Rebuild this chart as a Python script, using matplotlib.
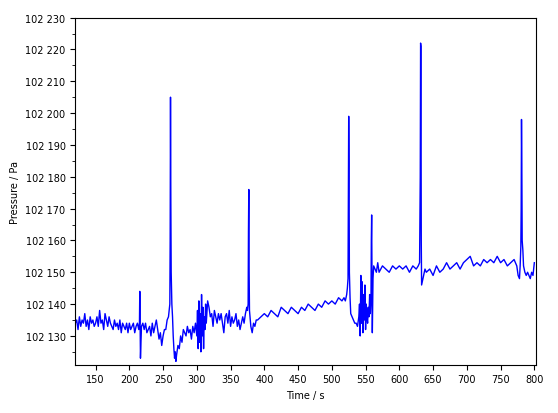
import numpy as np
import matplotlib
matplotlib.use("Agg")
from matplotlib import pyplot as plt
from matplotlib.ticker import FuncFormatter, MultipleLocator

# Zeit (s) und Druck (Pa)
t = [120, 122, 124, 126, 128, 130, 132, 134, 136, 138, 140, 142, 144, 146, 148, 150,
     152, 154, 156, 158, 160, 162, 164, 166, 168, 170, 172, 174, 176, 178, 180, 182,
     184, 186, 188, 190, 192, 194, 196, 198, 200, 202, 204, 206, 208, 210, 212, 214,
     215, 215.5, 216, 216.5, 218, 220, 222, 224, 226, 228, 230, 232, 234, 236, 238, 240,
     242, 244, 246, 248, 250, 252, 254, 256, 258, 259, 260, 260.5, 261, 261.5, 262, 263,
     264, 265, 266, 267, 268, 269, 270, 272, 274, 276, 278, 280, 282, 284, 286, 288,
     290, 292, 294, 296, 298, 300, 301, 302, 303, 304, 305, 306, 307, 308, 309, 310,
     311, 312, 313, 314, 316, 318, 320, 322, 324, 326, 328, 330, 332, 334, 336, 338,
     340, 342, 344, 346, 348, 350, 352, 354, 356, 358, 360, 362, 364, 366, 368, 370,
     372, 374, 375, 376, 376.5, 377, 377.5, 378, 380, 382, 384, 386, 388, 390, 395, 400,
     405, 410, 415, 420, 425, 430, 435, 440, 445, 450, 455, 460, 465, 470, 475, 480,
     485, 490, 495, 500, 505, 510, 515, 518, 520, 522, 523, 524, 524.5, 525, 525.5, 526,
     527, 528, 530, 532, 534, 536, 538, 540, 541, 542, 543, 544, 545, 546, 547, 548,
     549, 550, 551, 552, 553, 554, 555, 556, 557, 558, 558.5, 559, 560, 561, 562, 564,
     566, 568, 570, 575, 580, 585, 590, 595, 600, 605, 610, 615, 620, 625, 628, 630,
     631, 631.5, 632, 632.5, 633, 634, 636, 638, 640, 645, 650, 655, 660, 665, 670, 675,
     680, 685, 690, 695, 700, 705, 710, 715, 720, 725, 730, 735, 740, 745, 750, 755,
     760, 765, 770, 772, 774, 776, 778, 779, 780, 780.5, 781, 781.5, 782, 783, 784, 786,
     788, 790, 792, 794, 796, 798, 800]
p = [102134, 102135, 102132, 102136, 102133, 102135, 102134, 102137, 102133, 102135, 102132, 102136, 102134, 102135, 102133, 102134,
     102136, 102133, 102138, 102134, 102135, 102132, 102137, 102135, 102133, 102136, 102134, 102133, 102132, 102135, 102133, 102134,
     102132, 102135, 102131, 102134, 102133, 102132, 102134, 102131, 102134, 102132, 102133, 102134, 102131, 102133, 102134, 102132,
     102134, 102144, 102133, 102123, 102133, 102134, 102132, 102134, 102131, 102132, 102133, 102130, 102134, 102131, 102133, 102135,
     102132, 102129, 102131, 102127, 102130, 102132, 102132, 102135, 102136, 102138, 102140, 102160, 102205, 102172, 102150, 102140,
     102136, 102130, 102126, 102123, 102125, 102122, 102124, 102127, 102126, 102130, 102128, 102132, 102131, 102130, 102133, 102131,
     102132, 102129, 102133, 102131, 102134, 102130, 102138, 102126, 102141, 102128, 102137, 102125, 102143, 102130, 102139, 102126,
     102136, 102132, 102140, 102134, 102141, 102139, 102136, 102137, 102133, 102138, 102136, 102134, 102137, 102135, 102137, 102134,
     102131, 102136, 102137, 102134, 102138, 102133, 102136, 102134, 102135, 102137, 102133, 102135, 102132, 102134, 102136, 102134,
     102137, 102139, 102138, 102140, 102163, 102176, 102150, 102138, 102133, 102131, 102134, 102133, 102135, 102135, 102136, 102137,
     102136, 102138, 102137, 102136, 102139, 102138, 102137, 102139, 102138, 102137, 102139, 102138, 102140, 102139, 102138, 102140,
     102139, 102141, 102140, 102141, 102140, 102142, 102141, 102142, 102141, 102143, 102145, 102148, 102170, 102199, 102184, 102150,
     102142, 102137, 102136, 102135, 102134, 102134, 102133, 102136, 102140, 102130, 102149, 102134, 102147, 102131, 102143, 102135,
     102146, 102132, 102140, 102136, 102134, 102139, 102136, 102143, 102137, 102141, 102160, 102168, 102131, 102148, 102152, 102151,
     102150, 102153, 102150, 102152, 102151, 102150, 102152, 102151, 102152, 102151, 102152, 102150, 102152, 102151, 102152, 102153,
     102180, 102222, 102221, 102160, 102146, 102147, 102149, 102151, 102150, 102151, 102149, 102152, 102150, 102151, 102153, 102151,
     102152, 102153, 102151, 102153, 102154, 102155, 102152, 102153, 102152, 102154, 102153, 102154, 102153, 102155, 102153, 102154,
     102152, 102153, 102154, 102153, 102152, 102149, 102148, 102152, 102158, 102170, 102198, 102183, 102160, 102157, 102152, 102150,
     102149, 102150, 102149, 102148, 102150, 102149, 102153]

fig, ax = plt.subplots(figsize=(5.58, 4.14), dpi=100)
fig.subplots_adjust(left=0.135, right=0.96, bottom=0.117, top=0.955)
ax.plot(t, p, color="#0000ff", linewidth=1)
ax.set_xlim(120, 802)
ax.set_ylim(102121, 102230)
ax.xaxis.set_major_locator(MultipleLocator(50))
ax.yaxis.set_major_locator(MultipleLocator(10))
ax.yaxis.set_minor_locator(MultipleLocator(5))
ax.yaxis.set_major_formatter(FuncFormatter(lambda v, pos: "{:,.0f}".format(v).replace(",", " ")))
ax.tick_params(labelsize=7)
ax.set_xlabel("Time / s", fontsize=7)
ax.set_ylabel("Pressure / Pa", fontsize=7)
fig.savefig("out.png")
